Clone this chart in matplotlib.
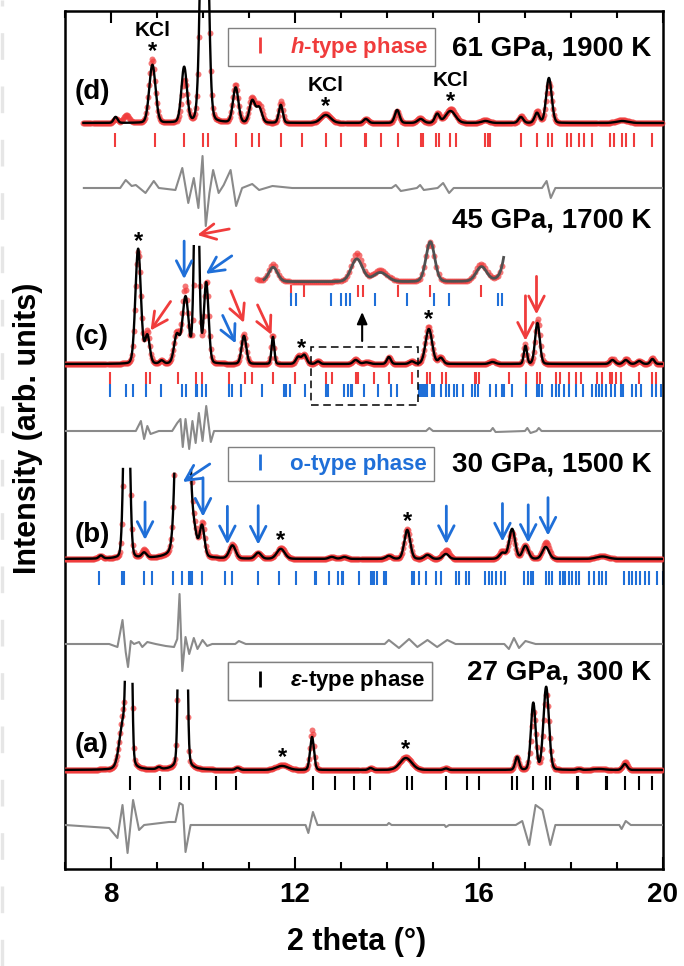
import numpy as np
import matplotlib
matplotlib.use('Agg')
import matplotlib.pyplot as plt
from matplotlib.lines import Line2D
from matplotlib.patches import Rectangle
from matplotlib.ticker import MultipleLocator

plt.rcParams['font.family'] = ['Liberation Sans', 'DejaVu Sans']
plt.rcParams['font.weight'] = 'bold'
plt.rcParams['mathtext.fontset'] = 'custom'
plt.rcParams['mathtext.it'] = 'Liberation Sans:italic:bold'
plt.rcParams['mathtext.rm'] = 'Liberation Sans:bold'

RED = '#f03c3c'
BLUE = '#1f6fd8'
GREY = '#8a8a8a'

# ---------------- (d) 61 GPa, 1900 K  (h-type phase)
d_pos = [8.10, 8.33, 8.90, 9.59, 10.03, 10.71, 11.07, 11.22, 11.69, 12.67, 13.54,
         14.22, 14.73, 15.09, 15.38, 16.14, 16.91, 17.26, 17.52, 19.11]
d_calc = [6, 0, 58, 55, 400, 35, 22, 15, 18, 8, 4, 13, 4, 9, 12, 2, 6, 10, 45, 2]
d_obs = [4, 8, 64, 42, 410, 38, 25, 18, 22, 9, 4, 12, 5, 10, 14, 3, 7, 12, 40, 3]
d_fwhm = [0.10, 0.15, 0.16, 0.14, 0.16, 0.14, 0.14, 0.14, 0.10, 0.25, 0.12,
          0.12, 0.15, 0.12, 0.25, 0.20, 0.12, 0.12, 0.14, 0.30]
d_ticks = [8.09, 8.96, 9.59, 9.99, 10.11, 10.71, 11.07, 11.22, 11.69, 12.16, 12.67,
           12.99, 13.52, 13.55, 13.88, 14.25, 14.73, 14.78, 15.06, 15.13, 15.38, 15.51,
           16.14, 16.20, 16.23, 16.91, 17.27, 17.49, 17.58, 17.92, 17.99, 18.17,
           18.28, 18.46, 18.84, 18.93, 19.11, 19.19, 19.37, 19.76]
d_res_x = [7.41, 8.20, 8.32, 8.45, 8.54, 8.75, 8.93, 9.04, 9.40, 9.55, 9.68, 9.80,
           9.90, 9.99, 10.06, 10.14, 10.22, 10.34, 10.45, 10.60, 10.72, 10.85, 11.07,
           11.22, 11.51, 11.94, 14.10, 14.19, 14.30, 14.65, 14.72, 14.80, 15.10,
           15.22, 15.35, 15.45, 17.37, 17.47, 17.56, 17.66, 20.0]
d_res_y = [0, 0, 8, 2, 3, -5, 7, 0, -2, 20, -15, 10, -20, 32, -38, -5, 18, -5, 3,
           18, -18, 0, 4, -2, 2, 0, 0, 3, -3, 0, 3, -2, 0, 5, -5, 0, 0, 7, -10, 0, 0]
d_stars = [8.90, 12.67, 15.38]

# ---------------- (c) 45 GPa, 1700 K  (h + o phases)
c_pos = [8.59, 8.79, 9.10, 9.43, 9.62, 9.86, 10.07, 10.89, 11.52, 12.07, 12.20,
         12.50, 13.32, 13.55, 14.04, 14.54, 14.91, 15.17, 16.29, 17.01, 17.27,
         18.90, 19.19, 19.48, 19.77]
c_calc = [115, 28, 3, 28, 66, 260, 80, 28, 27, 7, 9, 2.5, 4, 1.6, 7, 2.5, 35, 6,
          2, 18, 41, 4, 4, 3, 5]
c_obs = [112, 32, 3, 30, 76, 200, 82, 30, 30, 8, 9, 3, 5, 2, 7, 3, 37, 7, 3, 20,
         45, 5, 5, 3, 6]
c_fwhm = [0.14, 0.12, 0.10, 0.14, 0.16, 0.11, 0.12, 0.12, 0.07, 0.12, 0.12, 0.10,
          0.13, 0.16, 0.10, 0.12, 0.17, 0.12, 0.15, 0.08, 0.12, 0.12, 0.12, 0.12, 0.10]
c_ticks_h = [7.97, 8.77, 8.84, 9.46, 9.84, 9.97, 10.57, 10.91, 11.06, 11.52, 12.01,
             12.67, 12.80, 13.33, 13.38, 13.72, 14.04, 14.54, 14.88, 14.93, 15.19,
             15.28, 15.91, 15.94, 16.00, 16.65, 17.03, 17.25, 17.32, 17.67, 17.75,
             17.96, 18.10, 18.21, 18.57, 18.67, 18.84, 18.90, 18.97, 19.08, 19.48,
             19.75, 19.84]
c_ticks_o = [7.97, 8.33, 8.48, 8.77, 9.08, 9.55, 9.62, 9.84, 9.88, 9.97, 10.07,
             10.57, 10.62, 10.82, 11.29, 11.76, 11.81, 11.89, 12.22, 12.67, 12.72,
             13.07, 13.16, 13.21, 13.25, 13.50, 13.81, 14.08, 14.22, 14.70, 14.74,
             14.78, 14.83, 14.87, 14.97, 15.02, 15.17, 15.28, 15.35, 15.46, 15.53,
             15.65, 15.85, 15.91, 15.98, 16.23, 16.36, 16.49, 16.54, 16.72, 17.02,
             17.27, 17.31, 17.38, 17.59, 17.67, 17.74, 17.85, 17.96, 18.10, 18.25,
             18.46, 18.54, 18.61, 18.68, 18.77, 18.86, 18.96, 19.08, 19.12, 19.33,
             19.41, 19.52, 19.77, 19.84, 19.95]
c_res_x = [7.0, 8.54, 8.65, 8.72, 8.79, 8.86, 9.04, 9.33, 9.44, 9.51, 9.56, 9.62,
           9.70, 9.77, 9.84, 9.91, 9.99, 10.07, 10.17, 10.24, 14.85, 14.92, 15.0,
           16.25, 16.30, 16.36, 17.00, 17.05, 17.12, 17.25, 17.30, 17.36, 20.0]
c_res_y = [0, 0, 10, -8, 5, -3, 0, 0, 8, 12, -16, 12, -18, 10, -12, 18, -10, 25,
           -11, 0, 0, 3, 0, 0, 3, -1, 0, 3, -2, 0, 3, 0, 0]
c_stars = [8.59, 12.15, 14.91]

# ---------------- (b) 30 GPa, 1500 K  (o-type phase)
b_pos = [7.78, 8.34, 8.72, 9.555, 9.80, 9.98, 10.64, 11.20, 11.69, 12.80, 13.07,
         14.04, 14.44, 14.88, 15.28, 16.51, 16.72, 17.01, 17.45, 18.68]
b_calc = [3, 300, 5, 700, 22, 30, 13, 6, 10, 2, 2, 3, 29, 4, 5, 6, 30, 13, 12, 2.5]
b_obs = [3, 290, 8, 690, 24, 33, 14, 6, 11, 2, 2, 3, 30, 4, 9, 8, 27, 14, 17, 3]
b_fwhm = [0.10, 0.12, 0.12, 0.20, 0.15, 0.12, 0.16, 0.15, 0.20, 0.15, 0.15,
          0.15, 0.15, 0.15, 0.15, 0.15, 0.15, 0.15, 0.17, 0.30]
b_ticks = [7.75, 8.25, 8.28, 8.72, 8.90, 9.35, 9.54, 9.70, 9.73, 9.77, 9.97, 10.48,
           10.62, 11.20, 11.65, 12.03, 12.43, 12.46, 12.75, 12.94, 13.02, 13.05,
           13.39, 13.65, 13.68, 13.72, 13.79, 13.93, 13.97, 14.55, 14.59, 14.70,
           14.84, 15.06, 15.17, 15.51, 15.56, 15.71, 15.78, 16.14, 16.22, 16.29,
           16.36, 16.47, 16.57, 16.98, 17.07, 17.12, 17.18, 17.45, 17.52, 17.59,
           17.77, 17.82, 17.88, 17.96, 18.03, 18.10, 18.17, 18.39, 18.50, 18.61,
           18.68, 18.75, 19.15, 19.26, 19.33, 19.41, 19.51, 19.61, 19.69, 19.88, 19.99]
b_res_x = [7.0, 7.96, 8.14, 8.25, 8.32, 8.37, 8.43, 8.50, 8.61, 8.68, 8.79, 8.97,
           9.19, 9.37, 9.44, 9.49, 9.55, 9.62, 9.70, 9.80, 9.88, 9.99, 10.09, 10.20,
           10.70, 10.78, 10.93, 13.95, 14.04, 14.26, 14.48, 14.66, 14.88, 15.09,
           15.31, 15.49, 16.55, 16.65, 16.76, 16.87, 17.01, 17.23, 20.0]
b_res_y = [0, 0, -3, 24, -8, -23, 3, 0, 2, -3, 2, 0, -2, -3, 5, 50, -27, 7, -10,
           6, -5, 4, -2, 0, 0, 3, 0, 0, 4, -4, 5, -3, 4, -3, 4, 0, 0, -5, 6, -4, 3, 0, 0]
b_stars = [11.69, 14.44]

# ---------------- (a) 27 GPa, 300 K  (epsilon-type phase)
a_pos = [8.27, 8.39, 9.04, 9.52, 9.60, 10.75, 11.72, 12.37, 13.64, 14.41, 15.28,
         16.83, 17.18, 17.46, 18.17, 18.61, 19.17]
a_calc = [45, 600, 2, 500, 500, 2, 4, 33, 2, 12, 1.5, 13, 67, 83, 1, 1, 6]
a_obs = [55, 560, 2, 480, 480, 2, 5, 40, 2, 13, 2, 13, 58, 76, 1, 1, 8]
a_fwhm = [0.20, 0.09, 0.10, 0.09, 0.09, 0.10, 0.30, 0.10, 0.10, 0.30, 0.10, 0.10,
          0.12, 0.14, 0.10, 0.30, 0.12]
a_ticks = [8.41, 9.06, 9.53, 9.70, 10.28, 10.71, 12.39, 12.87, 13.28, 13.62, 14.44,
           14.55, 15.29, 15.75, 16.00, 16.72, 16.83, 17.17, 17.45, 17.54, 18.14,
           18.16, 18.75, 18.79, 19.17, 19.48, 19.77]
a_res_x = [7.0, 7.96, 8.14, 8.25, 8.36, 8.48, 8.61, 8.72, 9.26, 9.40, 9.49, 9.56,
           9.62, 9.73, 12.23, 12.29, 12.39, 12.49, 14.0, 14.04, 14.1, 15.25, 15.28,
           15.35, 16.80, 16.94, 17.09, 17.23, 17.38, 17.55, 17.66, 19.05, 19.10,
           19.19, 19.30, 20.0]
a_res_y = [0, -3, -13, 20, -28, 25, -5, 0, 3, 3, 22, 20, -27, 0, 0, -8, 13, 0, 0,
           2, 0, 0, -2, 0, 0, 4, -20, 20, 15, -20, 0, 0, -4, 4, 0, 0]
a_stars = [11.72, 14.41]


def pattern(x, pos, hgt, fwhm, eta=0.1):
    """pseudo-Voigt sum of the listed reflections"""
    y = np.zeros_like(x)
    for p, h, w in zip(pos, hgt, fwhm):
        u = (x - p) / w
        y += h * ((1 - eta) * np.exp(-4 * np.log(2) * u ** 2) + eta / (1 + 4 * u ** 2))
    return y


fig = plt.figure(figsize=(6.84, 9.66), dpi=100)
ax = fig.add_axes([65 / 684, 97 / 966, 598 / 684, 858 / 966])
ax.set_xlim(7, 20)
ax.set_ylim(0, 858)

DOT = dict(ls='none', marker='o', ms=4.3, color=RED, alpha=0.7, mec='none', zorder=3)

panels = [
    # name, peaks, calc, obs, fwhm, baseline, clip, start, residual, res. level
    ('d', d_pos, d_calc, d_obs, d_fwhm, 746, None, 7.4, d_res_x, d_res_y, 681),
    ('c', c_pos, c_calc, c_obs, c_fwhm, 505, 126, 7.0, c_res_x, c_res_y, 438),
    ('b', b_pos, b_calc, b_obs, b_fwhm, 310, 91, 7.0, b_res_x, b_res_y, 225),
    ('a', a_pos, a_calc, a_obs, a_fwhm, 99, 90, 7.0, a_res_x, a_res_y, 44),
]
calc_at = {}
for name, pos, hc, ho, fw, base, clip, x0, rx, ry, rbase in panels:
    xc = np.arange(x0, 20.0001, 0.004)
    yc = pattern(xc, pos, hc, fw)
    xo = np.arange(x0, 20.0001, 0.022)
    yo = pattern(xo, pos, ho, fw)
    if clip is not None:
        yc = np.where(yc > clip, np.nan, yc)
        yo = np.where(yo > clip, np.nan, yo)
    free = clip is None
    ax.plot(xo, base + yo, clip_on=not free, **DOT)
    ax.plot(xc, base + yc, color='k', lw=1.7, zorder=4, clip_on=not free)
    ax.plot(rx, rbase + np.array(ry), color=GREY, lw=1.5, zorder=3)

    def top(x, pos=pos, hc=hc, ho=ho, fw=fw, clip=clip):
        v = max(pattern(np.array([x]), pos, hc, fw)[0], pattern(np.array([x]), pos, ho, fw)[0])
        return min(v, clip) if clip else v
    calc_at[name] = (top, base)

# reflection markers
ax.vlines(d_ticks, 722, 736, colors=RED, lw=1.5)
ax.vlines(c_ticks_h, 485, 497, colors=RED, lw=1.5)
ax.vlines(c_ticks_o, 472, 485, colors=BLUE, lw=1.5)
ax.vlines(b_ticks, 284, 298, colors=BLUE, lw=1.5)
ax.vlines(a_ticks, 79, 93, colors='k', lw=1.5)

# magnified inset of panel (c)
src_lo, src_hi = 12.34, 14.76
dst_lo, dst_hi = 11.17, 16.54
scale_x = (dst_hi - dst_lo) / (src_hi - src_lo)
in_base, in_gain = 587, 5.7
xi = np.arange(12.41, src_hi, 0.004)
xio = np.arange(src_lo, src_hi, 0.02)
ax.plot(dst_lo + (xio - src_lo) * scale_x, in_base + in_gain * pattern(xio, c_pos, c_obs, c_fwhm),
        **DOT)
ax.plot(dst_lo + (xi - src_lo) * scale_x, in_base + in_gain * pattern(xi, c_pos, c_calc, c_fwhm),
        color='#505050', lw=2.0, zorder=4)
ih = [t for t in c_ticks_h if src_lo <= t <= src_hi]
io = [t for t in c_ticks_o if src_lo <= t <= src_hi]
ax.vlines(dst_lo + (np.array(ih) - src_lo) * scale_x, 572, 584, colors=RED, lw=1.5)
ax.vlines(dst_lo + (np.array(io) - src_lo) * scale_x, 563, 576, colors=BLUE, lw=1.5)
box_lo, box_hi = 12.34, 14.68
ax.add_patch(Rectangle((box_lo, 464), box_hi - box_lo, 58, fill=False, ec='k',
                       lw=1.1, ls=(0, (5, 3)), zorder=5))
ax.annotate('', xy=(13.46, 557), xytext=(13.46, 528),
            arrowprops=dict(arrowstyle='-|>,head_length=0.5,head_width=0.22',
                            color='k', lw=1.5, shrinkA=0, shrinkB=0, mutation_scale=14))

# arrows marking new reflections: (x, gap above pattern, tail dx, tail dy) in px
c_red_arrows = [(8.86, 20, 20, 29), (9.875, 3, 32, 6), (10.89, 11, -13, 32),
                (11.49, 11, -14, 30), (17.01, 3, 0, 45), (17.25, 8, 0, 38)]
c_blue_arrows = [(9.59, 14, 0, 38), (10.06, 8, 26, 18), (10.71, 20, -13, 28)]
b_blue_arrows = [(8.74, 10, 0, 38), (10.0, 8, 0, 39), (10.53, 10, 0, 38),
                 (11.2, 8, 0, 39), (9.56, -14, 27, 18), (15.29, 6, 0, 38),
                 (16.51, 9, 0, 38), (17.07, 7, 0, 38), (17.5, 10, 0, 38)]
for name, arrows, col in [('c', c_red_arrows, RED), ('c', c_blue_arrows, BLUE),
                          ('b', b_blue_arrows, BLUE)]:
    top, base = calc_at[name]
    for x, gap, dx, dy in arrows:
        ax.annotate('', xy=(x, base + top(x) + gap), xytext=(dx, dy),
                    textcoords='offset pixels',
                    arrowprops=dict(arrowstyle='->,head_length=0.55,head_width=0.28',
                                    color=col, lw=2.0, shrinkA=0, shrinkB=0,
                                    mutation_scale=20), zorder=6)

# impurity (KCl) peaks
for name, stars in [('d', d_stars), ('c', c_stars), ('b', b_stars), ('a', a_stars)]:
    top, base = calc_at[name]
    for x in stars:
        y = base + top(x) + 1
        ax.text(x, y, '*', ha='center', va='baseline', fontsize=17, zorder=6)
        if name == 'd':
            ax.text(x, y + 22, 'KCl', ha='center', va='baseline', fontsize=15)

# panel labels and conditions
for lab, y in [('(d)', 770), ('(c)', 525), ('(b)', 327), ('(a)', 117)]:
    ax.text(7.2, y, lab, fontsize=20, va='baseline')
for cond, y in [('61 GPa, 1900 K', 814), ('45 GPa, 1700 K', 642),
                ('30 GPa, 1500 K', 397), ('27 GPa, 300 K', 189)]:
    ax.text(19.74, y, cond, fontsize=20, ha='right', va='baseline')

# phase legends
for lab, col, anchor in [(r'$\mathit{h}$-type phase', RED, 0.980),
                         ('o-type phase', BLUE, 0.492),
                         (r'$\varepsilon$-type phase', 'k', 0.2415)]:
    h = Line2D([], [], ls='none', marker='|', ms=11, mew=2, color=col)
    leg = ax.legend([h], [lab], loc='upper left', bbox_to_anchor=(0.2726, anchor),
                    prop={'size': 16, 'weight': 'bold'}, labelcolor=col,
                    handlelength=2.3, handletextpad=0.2, borderpad=0.3,
                    borderaxespad=0, fancybox=False, framealpha=1, edgecolor='#808080')
    leg.get_frame().set_linewidth(1.0)
    ax.add_artist(leg)

ax.set_xticks([8, 12, 16, 20])
ax.xaxis.set_minor_locator(MultipleLocator(1))
ax.set_yticks([])
ax.tick_params(axis='x', which='both', direction='in', top=True, labelsize=20, pad=9, width=1.5)
ax.tick_params(axis='x', which='major', length=8.5)
ax.tick_params(axis='x', which='minor', length=5)
for s in ax.spines.values():
    s.set_linewidth(1.8)
ax.set_xlabel('2 theta (\u00b0)', fontsize=22, fontweight='bold')
ax.set_ylabel('Intensity (arb. units)', fontsize=22, fontweight='bold')
ax.xaxis.set_label_coords(0.488, -0.068)
ax.yaxis.set_label_coords(-0.037, 0.514)

# faint dashed strip on the far left of the scan
fig.add_artist(Line2D([1.5 / 684, 1.5 / 684], [0, 1], transform=fig.transFigure,
                      color='#e6e6e6', lw=2.4, dashes=(8, 8)))

fig.savefig('out.png', dpi=100)
